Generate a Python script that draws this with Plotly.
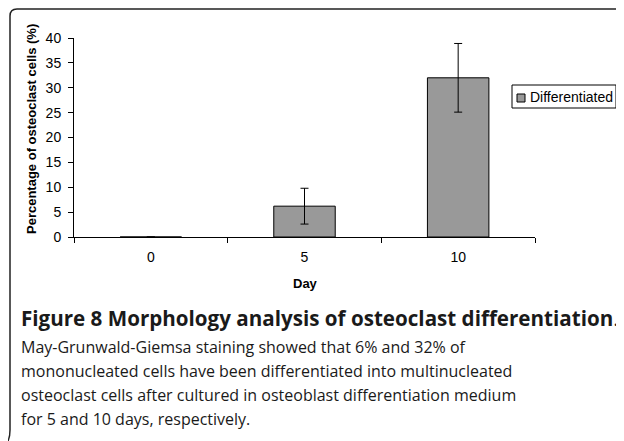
import plotly.graph_objects as go

days = ["0", "5", "10"]
differentiated = [0.0, 6.2, 32.0]
errors = [0.0, 3.6, 6.9]
series_name = "Differentiated"
y_ticks = [0, 5, 10, 15, 20, 25, 30, 35, 40]
bar_color = "#999999"

# The page body has an 8px default margin, so the figure is sized to fill the
# rest of the 624x441 window; page-pixel helpers below account for it.
OFF = 8
W, H = 624 - OFF, 441 - OFF
PLOT_X0, PLOT_X1, PLOT_Y0, PLOT_Y1 = 74, 535, 38, 237  # page pixels
L, T = PLOT_X0 - OFF, PLOT_Y0 - OFF
PW, PH = PLOT_X1 - PLOT_X0, PLOT_Y1 - PLOT_Y0
R, B = W - L - PW, H - T - PH

def px(x):
    return (x - PLOT_X0) / PW

def py(y):
    return (PLOT_Y1 - y) / PH

AX = "Liberation Sans, Arial, sans-serif"
CAP = "Open Sans, sans-serif"

fig = go.Figure()
fig.add_trace(go.Bar(
    x=days, y=differentiated, name=series_name,
    marker=dict(color=bar_color, line=dict(color="#000000", width=1)),
    error_y=dict(type="data", array=errors, visible=True, color="#000000", thickness=1, width=4),
    showlegend=False,
))

annotations = [
    dict(text="<b>Percentage of osteoclast cells (%)</b>", textangle=-90, x=px(31), y=py(129),
         xref="paper", yref="paper", xanchor="center", yanchor="middle", showarrow=False,
         font=dict(family=AX, size=13, color="#000")),
    dict(text="<b>Day</b>", x=px(305), y=py(283), xref="paper", yref="paper",
         xanchor="center", yanchor="middle", showarrow=False,
         font=dict(family=AX, size=13, color="#000")),
    dict(text=series_name, x=px(528), y=py(97), xref="paper", yref="paper",
         xanchor="left", yanchor="middle", showarrow=False,
         font=dict(family=AX, size=14, color="#000")),
]

cap_lines = [
    ("<b>Figure 8 Morphology analysis of osteoclast differentiation</b>.", 318, 20.6),
    ("May-Grunwald-Giemsa staining showed that 6% and 32% of", 347, 16),
    ("mononucleated cells have been differentiated into multinucleated", 371, 16),
    ("osteoclast cells after cultured in osteoblast differentiation medium", 395, 16),
    ("for 5 and 10 days, respectively.", 419, 16),
]
for txt, yy, sz in cap_lines:
    annotations.append(dict(text=txt, x=px(19), y=py(yy), xref="paper", yref="paper",
                            xanchor="left", yanchor="middle", showarrow=False,
                            font=dict(family=CAP, size=sz, color="#1a1a1a")))

frame = (f"M {px(630)},{py(9)} L {px(17)},{py(9)} Q {px(10)},{py(9)} {px(10)},{py(16)} "
         f"L {px(10)},{py(430)} Q {px(10)},{py(437)} {px(8)},{py(441)}")

shapes = [
    dict(type="path", path=frame, xref="paper", yref="paper", line=dict(color="#222", width=1.5)),
    dict(type="rect", xref="paper", yref="paper", x0=px(512), x1=px(616), y0=py(85), y1=py(108),
         line=dict(color="#000", width=1), fillcolor="white"),
    dict(type="rect", xref="paper", yref="paper", x0=px(517), x1=px(525), y0=py(94), y1=py(102),
         line=dict(color="#000", width=1), fillcolor=bar_color),
]

fig.update_layout(
    width=W, height=H,
    margin=dict(l=L, r=R, t=T, b=B, autoexpand=False),
    paper_bgcolor="white", plot_bgcolor="white",
    bargap=0.6,
    showlegend=False,
    font=dict(family=AX, size=13, color="#000"),
    xaxis=dict(type="category", showline=True, linecolor="#000", linewidth=1,
               ticks="outside", tickson="boundaries", ticklen=5, tickcolor="#000",
               ticklabelstandoff=7,
               showgrid=False, tickfont=dict(family=AX, size=14), fixedrange=True),
    yaxis=dict(range=[0, 40], tickvals=y_ticks, showline=True, linecolor="#000", linewidth=1,
               ticks="outside", ticklen=5, tickcolor="#000", showgrid=False, zeroline=False,
               ticklabelstandoff=4,
               tickfont=dict(family=AX, size=14)),
    annotations=annotations,
    shapes=shapes,
)

fig.write_html("out.html")
